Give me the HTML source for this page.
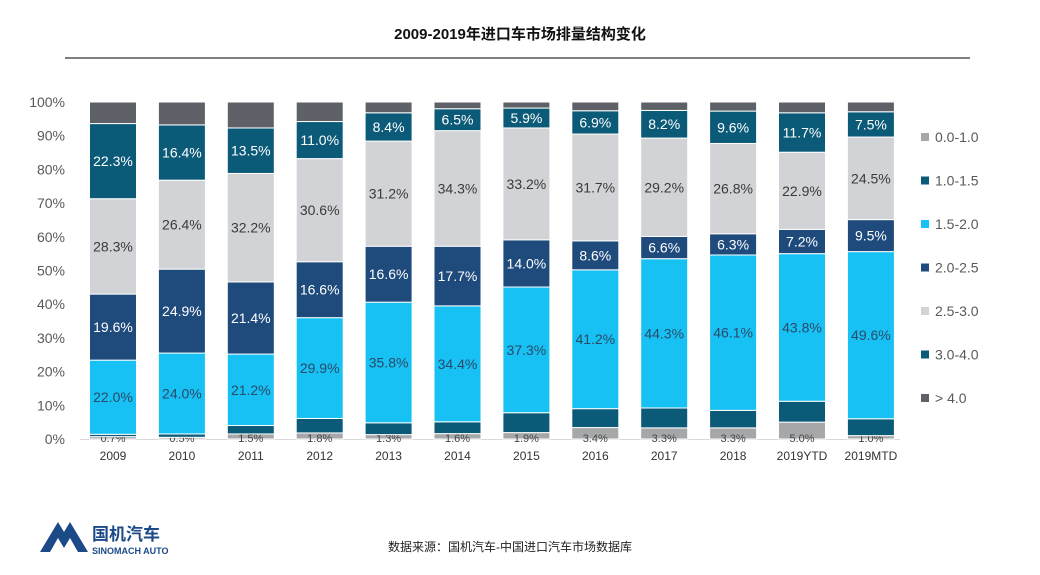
<!DOCTYPE html>
<html><head><meta charset="utf-8"><style>
body{margin:0;background:#fff;font-family:"Liberation Sans","Noto Sans CJK SC",sans-serif;}
#wrap{position:relative;width:1040px;height:575px;overflow:hidden;}
</style></head><body>
<div id="wrap">
<svg id="chart" width="1040" height="575">
<text x="520" y="39" text-anchor="middle" font-size="15" font-weight="bold" fill="#111">2009-2019年进口车市场排量结构变化</text>
<line x1="65" y1="58" x2="970" y2="58" stroke="#555" stroke-width="1.5"/>
<g id="plot"></g>
<g id="legend"></g>
<g>
<path d="M40 552 L58 522 L64 532 L70 522 L88 552 L78 552 L70 538 L64 548 L58 538 L50 552 Z" fill="#1b4a86"/>
<text x="92" y="540" font-size="17" font-weight="bold" fill="#1b4a86">国机汽车</text>
<text x="92" y="554" font-size="9" font-weight="bold" fill="#1b4a86">SINOMACH AUTO</text>
</g>
<text x="510" y="551" text-anchor="middle" font-size="12" fill="#222">数据来源：国机汽车-中国进口汽车市场数据库</text>
</svg>
</div>
<script>
const categories=["2009","2010","2011","2012","2013","2014","2015","2016","2017","2018","2019YTD","2019MTD"];
const seriesNames=["0.0-1.0","1.0-1.5","1.5-2.0","2.0-2.5","2.5-3.0","3.0-4.0","> 4.0"];
const s00_10=[0.7,0.5,1.5,1.8,1.3,1.6,1.9,3.4,3.3,3.3,5.0,1.0];
const s10_15=[0.7,1.0,2.5,4.3,3.5,3.5,5.9,5.6,5.9,5.2,6.2,5.0];
const s15_20=[22.0,24.0,21.2,29.9,35.8,34.4,37.3,41.2,44.3,46.1,43.8,49.6];
const s20_25=[19.6,24.9,21.4,16.6,16.6,17.7,14.0,8.6,6.6,6.3,7.2,9.5];
const s25_30=[28.3,26.4,32.2,30.6,31.2,34.3,33.2,31.7,29.2,26.8,22.9,24.5];
const s30_40=[22.3,16.4,13.5,11.0,8.4,6.5,5.9,6.9,8.2,9.6,11.7,7.5];
const s40up=[6.4,6.8,7.7,5.8,3.2,2.0,1.8,2.6,2.5,2.7,3.2,2.9];
const labeled=[true,false,true,true,true,true,false];
const yTicks=[0,10,20,30,40,50,60,70,80,90,100];
const series=[s00_10,s10_15,s15_20,s20_25,s25_30,s30_40,s40up];
const colors=["#a6a7a9","#0b5a78","#17c1f3","#1e4a7c","#d1d3d6","#0b5a78","#5e6268"];
const textCol=["#444","#fff","#2a4a6a","#fff","#3a3a3a","#fff","#fff"];
const NS="http://www.w3.org/2000/svg";
const y0=439,y100=102,x0=113,step=68.9,bw=47;
const y=v=>y0-(y0-y100)*v/100;
const x=i=>x0+step*i;
const plot=document.getElementById('plot');
function mk(t,a,p){const e=document.createElementNS(NS,t);for(const k in a)e.setAttribute(k,a[k]);(p||plot).appendChild(e);return e;}
yTicks.forEach(t=>{
 const e=mk('text',{x:65,y:y(t)+5,'text-anchor':'end','font-size':14,fill:'#595959'});
 
 
 e.textContent=t+'%';
});
const base=mk('line',{x1:80,y1:y0+0.5,x2:900,y2:y0+0.5,stroke:'#d9d9d9'});


categories.forEach((c,i)=>{
 let cum=0;
 series.forEach((s,k)=>{
  const v=s[i];
  const r=mk('rect',{x:x(i)-bw/2,y:y(cum+v),width:bw,height:y(cum)-y(cum+v),fill:colors[k],stroke:'#fff','stroke-width':1});
  
  
  if(labeled[k]){
   const ty=k===0?y0+3:(y(cum)+y(cum+v))/2+5;
   const t=mk('text',{x:x(i),y:ty,'text-anchor':'middle','font-size':k===0?11:14,fill:textCol[k]});
   
   
   t.textContent=v.toFixed(1)+'%';
  }
  cum+=v;
 });
 const l=mk('text',{x:x(i),y:460,'text-anchor':'middle','font-size':12,fill:'#333'});
 
 
 l.textContent=c;
});
const lg=document.getElementById('legend');
seriesNames.forEach((n,k)=>{
 const yy=137+43.5*k;
 const r=mk('rect',{x:921,y:yy-4,width:8,height:8,fill:colors[k]},lg);
 
 
 const t=mk('text',{x:935,y:yy+5,'font-size':14,fill:'#595959'},lg);
 
 
 t.textContent=n;
});
</script>
</body></html>
